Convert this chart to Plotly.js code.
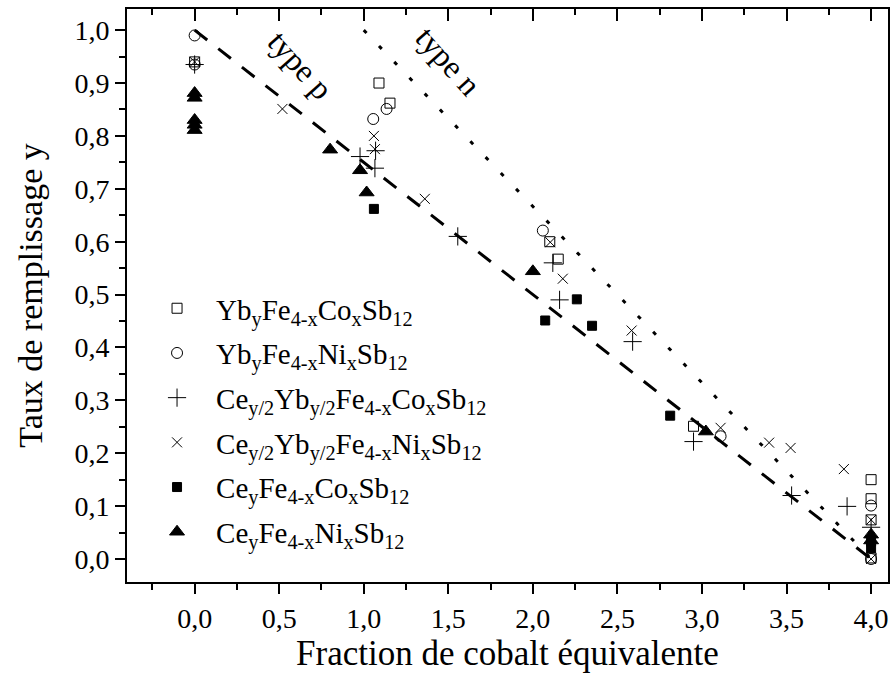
<!DOCTYPE html>
<html>
<head>
<meta charset="utf-8">
<script src="https://cdn.plot.ly/plotly-3.0.1.min.js"></script>
<style>html,body{margin:0;padding:0;background:#fff;}#chart{width:891px;height:675px;}</style>
</head>
<body>
<div id="chart"></div>
<script>
// Series data (x = fraction de cobalt équivalente, y = taux de remplissage)
const ybCoX = [0, 1.09, 1.155, 2.10, 2.15, 2.95, 4.0, 4.0, 4.0, 4.0];
const ybCoY = [0.94, 0.90, 0.862, 0.60, 0.567, 0.251, 0.15, 0.114, 0.074, 0.002];

const ybNiX = [0, 0, 1.056, 1.135, 2.059, 3.11, 4.0, 4.0];
const ybNiY = [0.99, 0.935, 0.832, 0.851, 0.621, 0.232, 0.101, 0.0];

const ceYbCoX = [0, 0.978, 1.07, 1.066, 1.556, 2.118, 2.158, 2.59, 2.95, 3.53, 3.858, 4.0];
const ceYbCoY = [0.935, 0.761, 0.772, 0.739, 0.610, 0.560, 0.490, 0.411, 0.222, 0.120, 0.0995, 0.06];

const ceYbNiX = [0, 0.519, 1.060, 1.066, 1.361, 2.103, 2.177, 2.584, 3.11, 3.397, 3.524, 3.839, 4.0, 4.0];
const ceYbNiY = [0.94, 0.851, 0.800, 0.775, 0.681, 0.599, 0.530, 0.432, 0.248, 0.220, 0.210, 0.170, 0.074, 0.0];

const ceCoX = [1.060, 2.073, 2.260, 2.350, 2.812, 4.0, 4.0];
const ceCoY = [0.662, 0.451, 0.491, 0.441, 0.271, 0.033, 0.02];

const ceNiX = [0, 0, 0, 0, 0, 0.801, 0.978, 1.017, 2.0, 3.023, 4.0, 4.0];
const ceNiY = [0.881, 0.872, 0.830, 0.821, 0.811, 0.774, 0.735, 0.693, 0.544, 0.241, 0.046, 0.035];

// Guide lines
const typePX = [0, 4];
const typePY = [1, 0];
const typeNX = [1, 4];
const typeNY = [1, 0];

const names = [
  'Yb<sub>y</sub>Fe<sub>4-x</sub>Co<sub>x</sub>Sb<sub>12</sub>',
  'Yb<sub>y</sub>Fe<sub>4-x</sub>Ni<sub>x</sub>Sb<sub>12</sub>',
  'Ce<sub>y/2</sub>Yb<sub>y/2</sub>Fe<sub>4-x</sub>Co<sub>x</sub>Sb<sub>12</sub>',
  'Ce<sub>y/2</sub>Yb<sub>y/2</sub>Fe<sub>4-x</sub>Ni<sub>x</sub>Sb<sub>12</sub>',
  'Ce<sub>y</sub>Fe<sub>4-x</sub>Co<sub>x</sub>Sb<sub>12</sub>',
  'Ce<sub>y</sub>Fe<sub>4-x</sub>Ni<sub>x</sub>Sb<sub>12</sub>'
];

const FONT = 'Liberation Serif, Times New Roman, serif';

function pts(x, y, name, symbol, size, grp) {
  return {
    type: 'scatter', mode: 'markers', x: x, y: y, name: name,
    legendgroup: grp,
    marker: {symbol: symbol, size: size, color: 'black', line: {color: 'black', width: 1}},
    cliponaxis: false
  };
}

const traces = [
  {type: 'scatter', mode: 'lines', x: typePX, y: typePY, showlegend: false,
   line: {color: 'black', width: 3, dash: '16px,14px'}},
  {type: 'scatter', mode: 'lines', x: typeNX, y: typeNY, showlegend: false,
   line: {color: 'black', width: 3, dash: '4px,18px'}},
  pts(ybCoX, ybCoY, names[0], 'square-open', 10, 'g1'),
  pts(ybNiX, ybNiY, names[1], 'circle-open', 11, 'g2'),
  pts(ceYbCoX, ceYbCoY, names[2], 'cross-thin-open', 13, 'g3'),
  pts(ceYbNiX, ceYbNiY, names[3], 'x-thin-open', 10, 'g4'),
  pts(ceCoX, ceCoY, names[4], 'square', 9, 'g5'),
  pts(ceNiX, ceNiY, names[5], 'triangle-up', 13, 'g6'),
  {type: 'scatter', mode: 'markers', x: [], y: [], xaxis: 'x2', showlegend: false}
];

const layout = {
  width: 891, height: 675,
  margin: {l: 127, r: 3, t: 9, b: 93},
  paper_bgcolor: 'white', plot_bgcolor: 'white',
  separators: ', ',
  font: {family: FONT, color: 'black', size: 24},
  showlegend: true,
  legend: {
    x: 0.0145, y: 0.522, xanchor: 'left', yanchor: 'top',
    bgcolor: 'rgba(0,0,0,0)', borderwidth: 0,
    font: {family: FONT, size: 29, color: 'black'},
    tracegroupgap: 4, itemsizing: 'trace', itemwidth: 68
  },
  xaxis: {
    range: [-0.4, 4.1], tick0: 0, dtick: 0.5, tickformat: '.1f',
    ticks: 'outside', ticklen: 10, tickwidth: 2, tickcolor: 'black',
    minor: {dtick: 0.25, ticks: 'outside', ticklen: 6, tickwidth: 2, tickcolor: 'black', showgrid: false},
    showline: true, linewidth: 2, linecolor: 'black', mirror: true,
    showgrid: false, zeroline: false,
    tickfont: {family: FONT, size: 28},
    title: {text: 'Fraction de cobalt équivalente', font: {family: FONT, size: 35}, standoff: 4}
  },
  xaxis2: {
    overlaying: 'x', side: 'top', anchor: 'y',
    range: [-0.4, 4.1], tick0: 0, dtick: 0.5,
    ticks: 'inside', ticklen: 12, tickwidth: 2, tickcolor: 'black',
    minor: {dtick: 0.25, ticks: 'inside', ticklen: 6, tickwidth: 2, tickcolor: 'black', showgrid: false},
    showticklabels: false, showline: false, showgrid: false, zeroline: false
  },
  yaxis: {
    range: [-0.0435, 1.04], tick0: 0, dtick: 0.1, tickformat: '.1f',
    ticks: 'outside', ticklen: 10, tickwidth: 2, tickcolor: 'black',
    minor: {dtick: 0.05, ticks: 'outside', ticklen: 6, tickwidth: 2, tickcolor: 'black', showgrid: false},
    showline: true, linewidth: 2, linecolor: 'black', mirror: true,
    showgrid: false, zeroline: false,
    tickfont: {family: FONT, size: 28},
    title: {text: 'Taux de remplissage y', font: {family: FONT, size: 34}, standoff: 22}
  },
  annotations: [
    {x: 0.625, y: 0.934, xref: 'x', yref: 'y', text: 'type p', showarrow: false,
     textangle: 48, font: {family: FONT, size: 32, color: 'black'}},
    {x: 1.50, y: 0.942, xref: 'x', yref: 'y', text: 'type n', showarrow: false,
     textangle: 48, font: {family: FONT, size: 32, color: 'black'}}
  ]
};

Plotly.newPlot('chart', traces, layout, {displayModeBar: false, staticPlot: true});
</script>
</body>
</html>
